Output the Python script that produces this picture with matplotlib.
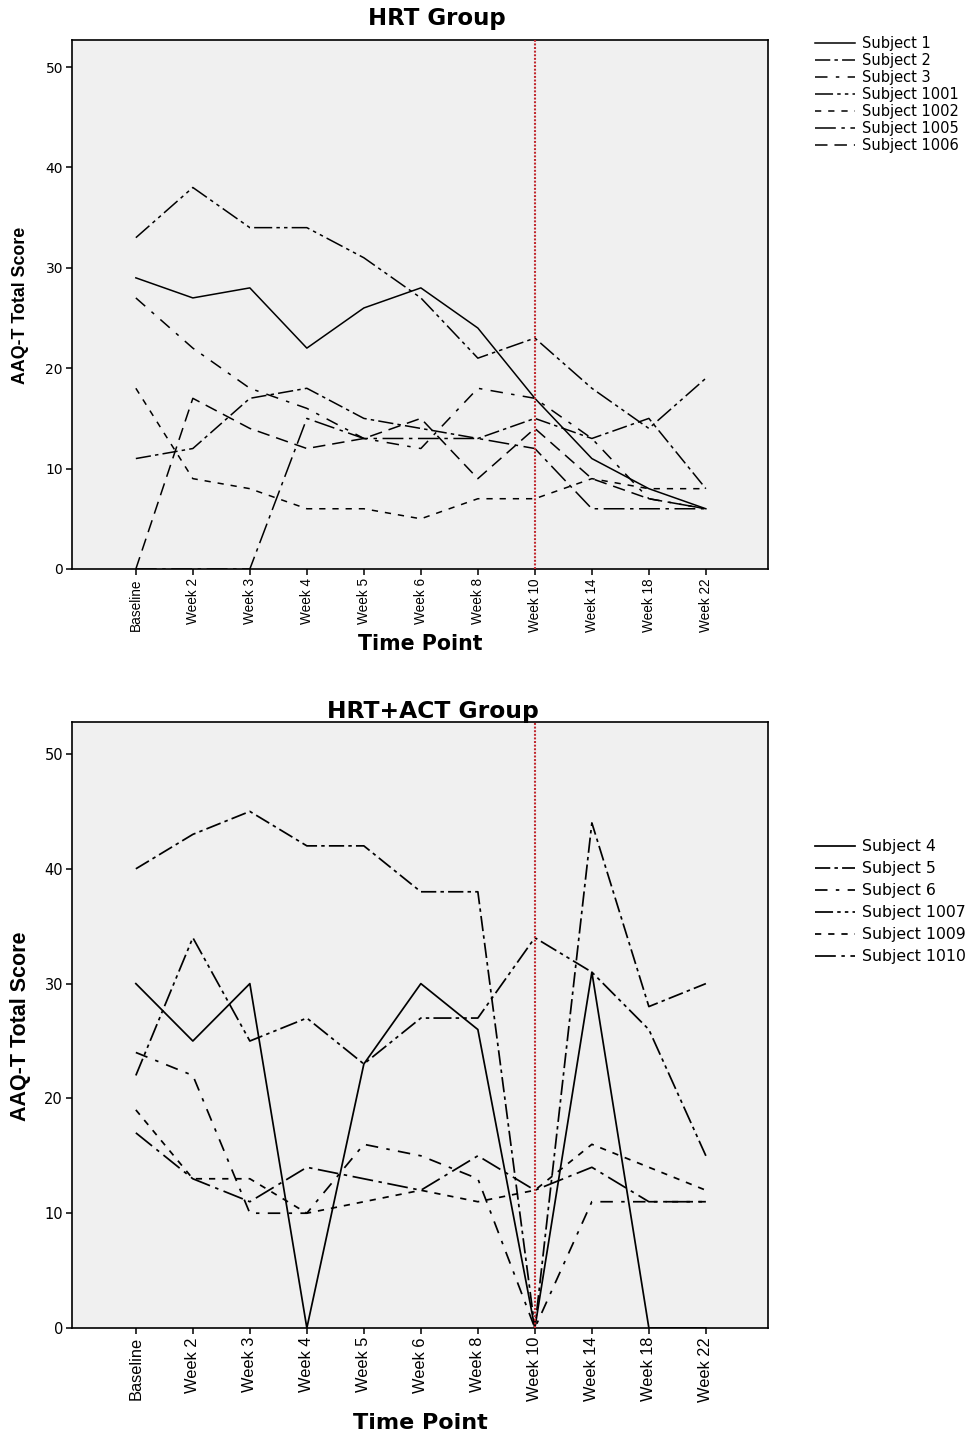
import matplotlib
matplotlib.use("Agg")
import matplotlib.pyplot as plt

plt.rcParams["lines.scale_dashes"] = False

time_points = ["Baseline", "Week 2", "Week 3", "Week 4", "Week 5", "Week 6",
               "Week 8", "Week 10", "Week 14", "Week 18", "Week 22"]

# HRT group scores (AAQ-T total)
hrt_subjects = ["Subject 1", "Subject 2", "Subject 3", "Subject 1001",
                "Subject 1002", "Subject 1005", "Subject 1006"]
hrt_s1 = [29, 27, 28, 22, 26, 28, 24, 17, 11, 8, 6]
hrt_s2 = [11, 12, 17, 18, 15, 14, 13, 15, 13, 15, 8]
hrt_s3 = [27, 22, 18, 16, 13, 12, 18, 17, 13, 7, 6]
hrt_s1001 = [33, 38, 34, 34, 31, 27, 21, 23, 18, 14, 19]
hrt_s1002 = [18, 9, 8, 6, 6, 5, 7, 7, 9, 8, 8]
hrt_s1005 = [0, 0, 0, 15, 13, 13, 13, 12, 6, 6, 6]
hrt_s1006 = [0, 17, 14, 12, 13, 15, 9, 14, 9, 7, 6]

# HRT+ACT group scores (AAQ-T total)
act_subjects = ["Subject 4", "Subject 5", "Subject 6", "Subject 1007",
                "Subject 1009", "Subject 1010"]
act_s4 = [30, 25, 30, 0, 23, 30, 26, 0, 31, 0, 0]
act_s5 = [40, 43, 45, 42, 42, 38, 38, 0, 44, 28, 30]
act_s6 = [24, 22, 10, 10, 16, 15, 13, 0, 11, 11, 11]
act_s1007 = [22, 34, 25, 27, 23, 27, 27, 34, 31, 26, 15]
act_s1009 = [19, 13, 13, 10, 11, 12, 11, 12, 16, 14, 12]
act_s1010 = [17, 13, 11, 14, 13, 12, 15, 12, 14, 11, 11]

y_ticks = [0, 10, 20, 30, 40, 50]
marker_week = "Week 10"

# line patterns (in points)
STYLES = [
    "-",
    (0, (11, 3, 2.5, 3)),
    (0, (9, 6, 2.5, 6)),
    (0, (13, 3, 2.5, 3, 2.5, 3)),
    (0, (4.5, 5)),
    (0, (15, 4, 2.5, 4)),
    (0, (9, 5)),
]

SANS = "Liberation Sans"
WIDE = "DejaVu Sans"

W, H = 970, 1437
fig = plt.figure(figsize=(W / 100, H / 100), dpi=100)


def fx(px):
    return px / W


def fy(py):
    return 1 - py / H


def setup_axes(ax, ymax, tick_size, ytick_size):
    ax.set_facecolor("#f0f0f0")
    ax.set_xlim(-1.12, 11.09)
    ax.set_ylim(0, ymax)
    ax.set_xticks(range(len(time_points)))
    ax.set_xticklabels(time_points, rotation=90, fontsize=tick_size,
                       fontfamily=SANS)
    ax.set_yticks(y_ticks)
    ax.set_yticklabels([str(v) for v in y_ticks], fontsize=ytick_size,
                       fontfamily=WIDE)
    ax.tick_params(direction="out", length=4.5, width=1.1, pad=2)
    for sp in ax.spines.values():
        sp.set_linewidth(1.2)
        sp.set_color("black")
    idx = time_points.index(marker_week)
    ax.axvline(idx, color="#c0272d", lw=1.5, ls=(0, (1.4, 1.2)), zorder=3)


# ---- HRT group ----
ax1 = fig.add_axes([fx(72), fy(569), fx(696), 529 / H])
hrt_series = [hrt_s1, hrt_s2, hrt_s3, hrt_s1001, hrt_s1002, hrt_s1005, hrt_s1006]
x = list(range(len(time_points)))
for name, vals, st in zip(hrt_subjects, hrt_series, STYLES):
    ax1.plot(x, vals, color="black", lw=1.1, ls=st, label=name, zorder=2)
setup_axes(ax1, 52.69, 9.8, 10)
ax1.legend(loc="upper left", bbox_to_anchor=(fx(815), fy(36)),
           bbox_transform=fig.transFigure, frameon=False,
           prop={"family": WIDE, "size": 10.5}, borderpad=0,
           borderaxespad=0, labelspacing=0.14, handlelength=2.75,
           handletextpad=0.5)
fig.text(fx(437), fy(19), "HRT Group", ha="center", va="center",
         fontsize=16.5, fontweight="bold", fontfamily=WIDE)
fig.text(fx(21), fy(305), "AAQ-T Total Score", ha="center", va="center",
         rotation=90, fontsize=12.8, fontweight="bold", fontfamily=SANS)
fig.text(fx(420), fy(644), "Time Point", ha="center", va="center",
         fontsize=14.8, fontweight="bold", fontfamily=WIDE)

# ---- HRT+ACT group ----
ax2 = fig.add_axes([fx(72), fy(1328), fx(696), 606 / H])
act_series = [act_s4, act_s5, act_s6, act_s1007, act_s1009, act_s1010]
for name, vals, st in zip(act_subjects, act_series, STYLES):
    ax2.plot(x, vals, color="black", lw=1.25, ls=st, label=name, zorder=2)
setup_axes(ax2, 52.79, 11.8, 10.5)
ax2.legend(loc="upper left", bbox_to_anchor=(fx(815), fy(839)),
           bbox_transform=fig.transFigure, frameon=False,
           prop={"family": WIDE, "size": 11.3}, borderpad=0,
           borderaxespad=0, labelspacing=0.45, handlelength=2.55,
           handletextpad=0.45)
fig.text(fx(433), fy(711), "HRT+ACT Group", ha="center", va="center",
         fontsize=16.8, fontweight="bold", fontfamily=WIDE)
fig.text(fx(21), fy(1026), "AAQ-T Total Score", ha="center", va="center",
         rotation=90, fontsize=15.5, fontweight="bold", fontfamily=SANS)
fig.text(fx(420), fy(1423), "Time Point", ha="center", va="center",
         fontsize=16, fontweight="bold", fontfamily=WIDE)

fig.savefig("out.png", dpi=100, facecolor="white")
